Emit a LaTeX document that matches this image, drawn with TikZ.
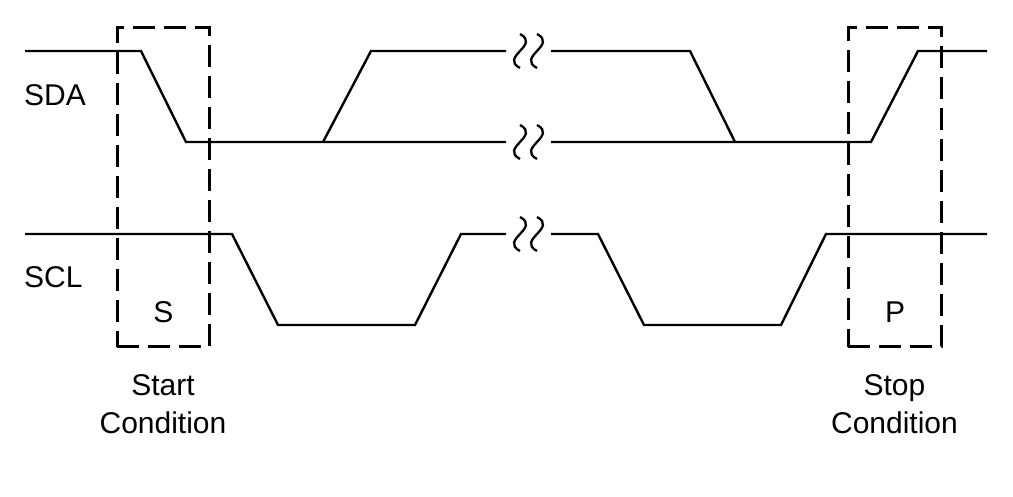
\documentclass[tikz,border=0pt]{standalone}
\usepackage{fontspec}
\setmainfont{Liberation Sans}
\usetikzlibrary{positioning}

\begin{document}
\begin{tikzpicture}[x=1pt,y=-1pt,line join=miter,
        wave/.style={draw=black,line width=2.4pt},
        squig/.style={draw=black,line width=2.3pt},
        cond box/.style={draw=black,line width=3pt,dash pattern=on 22pt off 9pt,
            inner sep=0pt,minimum height=319pt},
        sig label/.style={font=\fontsize{30}{38}\selectfont,inner sep=0pt},
        cond label/.style={font=\fontsize{30}{38}\selectfont,align=center,inner sep=0pt}]
        \useasboundingbox (0,0) rectangle (1013,497);
        % signal names
        \node[sig label,anchor=west] (sda) at (24,95) {SDA};
        \node[sig label,anchor=west] (scl) at (24,277.5) {SCL};
        % start and stop windows
        \node[cond box,minimum width=92pt] (startbox) at (163,187.5) {};
        \node[cond box,minimum width=93pt] (stopbox) at (894.5,187.5) {};
        \node[sig label] (s) at (163.5,311.7) {S};
        \node[sig label] (p) at (895,311.7) {P};
        \node[cond label,anchor=north] (start) [below=26pt of startbox] {Start\\Condition};
        \node[cond label,anchor=north] (stop) [below=26pt of stopbox] {Stop\\Condition};
        % SDA
        \draw[wave] (25,51) -- (141,51) -- (186,142) -- (506,142);
        \draw[wave] (323,142) -- (371,51) -- (506,51);
        \draw[wave] (551,51) -- (690,51) -- (735,142);
        \draw[wave] (551,142) -- (871,142) -- (918,51) -- (987,51);
        % SCL
        \draw[wave] (25,234) -- (232,234) -- (278,325) -- (415,325) -- (461,234) -- (506,234);
        \draw[wave] (551,234) -- (598,234) -- (644,325) -- (781,325) -- (826,234) -- (987,234);
        % breaks
        \foreach \y in {51,142,234}
            \foreach \x in {520,537}
                \draw[squig] (\x,\y-17) .. controls (\x+21,\y-6) and (\x-21,\y+6) .. (\x,\y+17);
\end{tikzpicture}
\end{document}
